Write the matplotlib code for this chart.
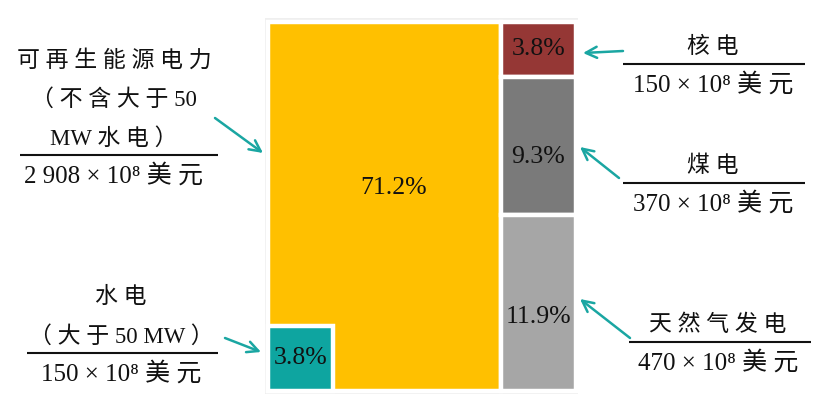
import numpy as np
import matplotlib
matplotlib.use("Agg")
import matplotlib.pyplot as plt
from matplotlib.patches import Rectangle

# data (10^8 USD) and shares shown in the chart
names = ["可再生能源电力", "水电", "核电", "煤电", "天然气发电"]
name_lines = [
    ["可 再 生 能 源 电 力", "（ 不 含 大 于 50", "MW 水 电 ）"],
    ["水 电", "（ 大 于 50 MW ）"],
    ["核 电"],
    ["煤 电"],
    ["天 然 气 发 电"],
]
values = [2908, 150, 150, 370, 470]
shares = [71.2, 3.8, 3.8, 9.3, 11.9]
colors = ["#FFC000", "#0EA5A0", "#953735", "#7A7A7A", "#A6A6A6"]

FONT = ["Liberation Serif", "DejaVu Serif", "Noto Sans CJK SC"]
ARROW = "#1AA6A2"
INK = "#111111"

fig = plt.figure(figsize=(8.25, 4.09), dpi=100)
fig.patch.set_facecolor("white")

# treemap panel
ax = fig.add_axes([265 / 825, 1 - 394 / 409, 313 / 825, 376 / 409])
ax.set_facecolor("#EFEFEF")
for s in ax.spines.values():
    s.set_visible(False)
ax.set_xticks([])
ax.set_yticks([])
W, H = 308.0, 369.0
ax.set_xlim(-3, W + 2)
ax.set_ylim(-3.5, H + 3.5)

total = float(sum(values))
left_w = W * (values[0] + values[1]) / total

rects = []
# left column: renewables, with hydro inset at bottom-left
rects.append((0, 0, left_w, H))
side = np.sqrt(values[1] / total * W * H)
rects.append((0, 0, side, side))
# right column: gas at bottom, coal, nuclear on top
right_sum = values[2] + values[3] + values[4]
h_gas = H * values[4] / right_sum
h_coal = H * values[3] / right_sum
h_nuc = H * values[2] / right_sum
rects.append((left_w, h_gas + h_coal, W - left_w, h_nuc))
rects.append((left_w, h_gas, W - left_w, h_coal))
rects.append((left_w, 0, W - left_w, h_gas))

label_frac = [(0.54, 0.55), (0.5, 0.5), (0.5, 0.5), (0.5, 0.42), (0.5, 0.42)]
for (x0, y0, w, h), c, sh, (fx, fy) in zip(rects, colors, shares, label_frac):
    ax.add_patch(Rectangle((x0, y0), w, h, facecolor=c, edgecolor="white", lw=3.2))
    ax.text(x0 + w * fx, y0 + h * fy, f"{sh}%", ha="center", va="center",
            fontsize=18.5, family=FONT, color=INK)

# overlay in figure pixels for labels, rules and arrows
ov = fig.add_axes([0, 0, 1, 1], zorder=5)
ov.set_xlim(0, 825)
ov.set_ylim(409, 0)
ov.axis("off")
ov.patch.set_alpha(0)

# (text center x, rule y, rule x0, rule x1, arrow tail, arrow head)
blocks = [
    (114, 155, 20, 218, (215, 118), (263, 153)),
    (121, 353, 27, 218, (225, 338), (261, 352)),
    (713, 64, 623, 805, (623, 51), (583, 53)),
    (713, 183, 623, 805, (619, 178), (580, 147)),
    (718, 342, 629, 811, (630, 338), (580, 299)),
]

for lines, v, (cx, ry, rx0, rx1, tail, head) in zip(name_lines, values, blocks):
    n = len(lines)
    for i, ln in enumerate(lines):
        y = ry - 16.5 - (n - 1 - i) * 39
        ov.text(cx, y, ln, ha="center", va="center", fontsize=16.5,
                family=FONT, color=INK)
    ov.plot([rx0, rx1], [ry, ry], color=INK, lw=1.5, solid_capstyle="butt")
    vs = f"{v:,}".replace(",", " ")
    ov.text(cx, ry + 21, f"{vs} × 10⁸ 美 元", ha="center", va="center",
            fontsize=18, family=FONT, color=INK)
    ov.annotate("", xy=head, xytext=tail,
                arrowprops=dict(arrowstyle="->,head_length=0.8,head_width=0.4",
                                color=ARROW, lw=1.8, shrinkA=0, shrinkB=0))

fig.savefig("out.png", dpi=100)
